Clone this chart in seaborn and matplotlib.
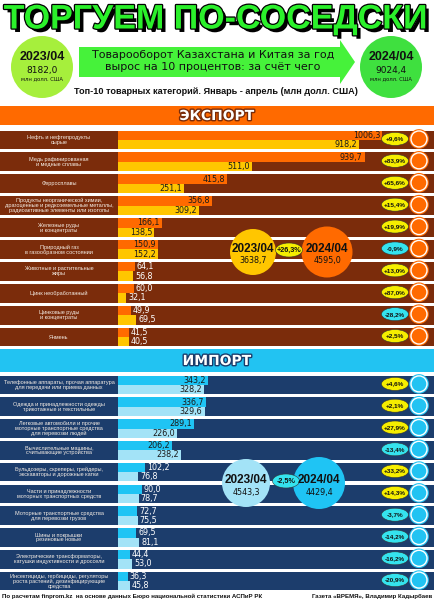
import matplotlib
matplotlib.use('Agg')
import matplotlib.pyplot as plt
import matplotlib.patheffects as pe
from matplotlib.patches import Circle, Ellipse, Polygon, Rectangle
import seaborn as sns
import pandas as pd

# ---- данные: экспорт ----
exp_cats = [
    "Нефть и нефтепродукты\nсырые",
    "Медь рафинированная\nи медные сплавы",
    "Ферросплавы",
    "Продукты неорганической химии,\nдрагоценные и редкоземельные металлы,\nрадиоактивные элементы или изотопы",
    "Железные руды\nи концентраты",
    "Природный газ\nв газообразном состоянии",
    "Животные и растительные\nжиры",
    "Цинк необработанный",
    "Цинковые руды\nи концентраты",
    "Ячмень",
]
exp_2024 = [1006.3, 939.7, 415.8, 356.8, 166.1, 150.9, 64.1, 60.0, 49.9, 41.5]
exp_2023 = [918.2, 511.0, 251.1, 309.2, 138.5, 152.2, 56.8, 32.1, 69.5, 40.5]
exp_change = ["+9,6%", "+83,9%", "+65,6%", "+15,4%", "+19,9%", "-0,9%",
              "+13,0%", "+87,0%", "-28,2%", "+2,5%"]

# ---- данные: импорт ----
imp_cats = [
    "Телефонные аппараты, прочая аппаратура\nдля передачи или приема данных",
    "Одежда и принадлежности одежды\nтрикотажные и текстильные",
    "Легковые автомобили и прочие\nмоторные транспортные средства\nдля перевозки людей",
    "Вычислительные машины,\nсчитывающие устройства",
    "Бульдозеры, скреперы, грейдеры,\nэкскаваторы и дорожные катки",
    "Части и принадлежности\nмоторных транспортных средств",
    "Моторные транспортные средства\nдля перевозки грузов",
    "Шины и покрышки\nрезиновые новые",
    "Электрические трансформаторы,\nкатушки индуктивности и дроссели",
    "Инсектициды, гербициды, регуляторы\nроста растений, дезинфицирующие\nсредства",
]
imp_2024 = [343.2, 336.7, 289.1, 206.2, 102.2, 90.0, 72.7, 69.5, 44.4, 36.3]
imp_2023 = [328.2, 329.6, 226.0, 238.2, 76.8, 78.7, 75.5, 81.1, 53.0, 45.8]
imp_change = ["+4,6%", "+2,1%", "+27,9%", "-13,4%", "+33,2%", "+14,3%",
              "-3,7%", "-14,2%", "-16,2%", "-20,9%"]

totals_exp = ["3638,7", "4595,0", "+26,3%"]
totals_imp = ["4543,3", "4429,4", "-2,5%"]
totals_all = ["8182,0", "9024,4"]

sns.set_theme(style='white')
narrow = 'Liberation Sans'
plt.rcParams['font.family'] = ['DejaVu Sans']

W, H = 434, 600
S = 0.2625   # пикселей на млн долл.
X0 = 118     # начало столбиков

fig = plt.figure(figsize=(4.34, 6.0), dpi=100)
fig.patch.set_facecolor('white')

bg = fig.add_axes([0, 0, 1, 1])
bg.set_xlim(0, W)
bg.set_ylim(H, 0)
bg.axis('off')

# шапка
title = bg.text(215, 20, "ТОРГУЕМ ПО-СОСЕДСКИ", ha='center', va='center',
                fontsize=24.5, fontweight='bold', family=narrow, color='#2bf02b')
title.set_path_effects([pe.SimplePatchShadow(offset=(2.5, -2.5), shadow_rgbFace='black', alpha=1),
                        pe.Stroke(linewidth=1.8, foreground='black'), pe.Normal()])

bg.add_patch(Polygon([(79, 47), (340, 47), (340, 40), (355, 62), (340, 84), (340, 77), (79, 77)],
                     closed=True, fc='#46f23a', ec='none'))
bg.text(213, 55, "Товарооборот Казахстана и Китая за год", ha='center', va='center',
        fontsize=8, color='#111111')
bg.text(213, 67, "вырос на 10 процентов: за счёт чего", ha='center', va='center',
        fontsize=8, color='#111111')

for cx, col, yr, val in [(42, '#a6ef3c', "2023/04", totals_all[0]),
                         (391, '#3fe03f', "2024/04", totals_all[1])]:
    bg.add_patch(Circle((cx, 67), 31, fc=col, ec='none'))
    bg.text(cx, 57, yr, ha='center', va='center', fontsize=9, fontweight='bold',
            family=narrow, color='#111111')
    bg.text(cx, 70, val, ha='center', va='center', fontsize=6.5, color='#111111')
    bg.text(cx, 79, "млн долл. США", ha='center', va='center', fontsize=3.8, color='#111111')

bg.text(216, 91, "Топ-10 товарных категорий. Январь - апрель (млн долл. США)", ha='center',
        va='center', fontsize=6.6, fontweight='bold', family=narrow, color='#111111')

# полосы разделов
bg.add_patch(Rectangle((0, 106), W, 19, fc='#ff6a00', ec='none'))
t = bg.text(217, 116, "ЭКСПОРТ", ha='center', va='center', fontsize=10,
            fontweight='heavy', color='white')
t.set_path_effects([pe.withStroke(linewidth=2, foreground='#7a2c0a')])
bg.add_patch(Rectangle((0, 349), W, 23, fc='#22c3f2', ec='none'))
t = bg.text(217, 361, "ИМПОРТ", ha='center', va='center', fontsize=10,
            fontweight='heavy', color='white')
t.set_path_effects([pe.withStroke(linewidth=2, foreground='#1b3c6b')])

bg.text(2, 596, "По расчетам finprom.kz  на основе данных Бюро национальной статистики АСПиР РК",
        ha='left', va='center', fontsize=4.4, fontweight='bold', family=narrow, color='#111111')
bg.text(432, 596, "Газета «ВРЕМЯ», Владимир Кадырбаев", ha='right', va='center',
        fontsize=4.4, fontweight='bold', family=narrow, color='#111111')


def panel(y_top, y_bot, cats, v24, v23, c24, c23, rowc):
    n = len(cats)
    ax = fig.add_axes([0, 1 - y_bot / H, 1, (y_bot - y_top) / H])
    df = pd.DataFrame({'cat': cats * 2,
                       'year': ['2024'] * n + ['2023'] * n,
                       'value': v24 + v23})
    sns.barplot(data=df, x='value', y='cat', hue='year', hue_order=['2024', '2023'],
                palette=[c24, c23], orient='h', width=0.86, gap=0, saturation=1,
                legend=False, errorbar=None, ax=ax, zorder=2, linewidth=0)
    for i in range(n):
        ax.axhspan(i - 0.43, i + 0.43, color=rowc, zorder=0, lw=0)
        ax.text((59 - X0) / S, i, cats[i], ha='center', va='center', fontsize=4.0,
                family=narrow, color='#f4ece4', linespacing=1.0)
        for v, dy in [(v24[i], -0.215), (v23[i], 0.215)]:
            lab = f"{v:.1f}".replace('.', ',')
            if v > 120:
                ax.text(v - 2 / S, i + dy, lab, ha='right', va='center', fontsize=5.8,
                        color='#1a1a1a', zorder=3)
            else:
                ax.text(v + 2 / S, i + dy, lab, ha='left', va='center', fontsize=5.8,
                        color='white', zorder=3)
    ax.set_xlim(-X0 / S, (W - X0) / S)
    ax.set_ylim(n - 0.5, -0.5)
    ax.axis('off')
    return ax


panel(129, 348, exp_cats, exp_2024, exp_2023, '#ff6a00', '#ffc600', '#7b2c0b')
panel(374, 592, imp_cats, imp_2024, imp_2023, '#1fc4f4', '#a3e3f7', '#1c3d6c')

# верхний слой: проценты, значки, итоги
top = fig.add_axes([0, 0, 1, 1])
top.set_xlim(0, W)
top.set_ylim(H, 0)
top.axis('off')
top.patch.set_alpha(0)


def badges(y_top, y_bot, changes, iconc):
    n = len(changes)
    pitch = (y_bot - y_top) / n
    for i, ch in enumerate(changes):
        yc = y_top + (i + 0.5) * pitch - 1
        fc = '#f6ee00' if ch.startswith('+') else '#35e3ee'
        top.add_patch(Ellipse((395, yc), 27, 13, fc=fc, ec='#333333', lw=0.4))
        top.text(395, yc, ch, ha='center', va='center', fontsize=4.6, fontweight='bold',
                 family=narrow, color='#111111')
        top.add_patch(Circle((419, yc), 9.8, fc=iconc, ec='none'))
        top.add_patch(Circle((419, yc), 8.0, fc='none', ec='white', lw=1.0))


badges(129, 348, exp_change, '#ff6a00')
badges(374, 592, imp_change, '#22c3f2')


def totals(cy, c1, c2, cb, vals, r1, r2, x1, x2, xb):
    top.add_patch(Circle((x1, cy), r1, fc=c1, ec='none'))
    top.add_patch(Circle((x2, cy), r2, fc=c2, ec='none'))
    for x, yr, v in [(x1, "2023/04", vals[0]), (x2, "2024/04", vals[1])]:
        top.text(x, cy - 3, yr, ha='center', va='center', fontsize=8.5, fontweight='bold',
                 family=narrow, color='#111111')
        top.text(x, cy + 9, v, ha='center', va='center', fontsize=5.8, color='#111111')
    top.add_patch(Ellipse((xb, cy - 2), 27, 14, fc=cb, ec='#333333', lw=0.4))
    top.text(xb, cy - 2, vals[2], ha='center', va='center', fontsize=5.2, fontweight='bold',
             family=narrow, color='#111111')


totals(252, '#ffc600', '#ff6a00', '#f6ee00', totals_exp, 23, 25.5, 253, 327, 289)
totals(483, '#a3e3f7', '#1fc4f4', '#35e3ee', totals_imp, 24, 26, 246, 319, 286)

fig.savefig('out.png', dpi=100, facecolor='white')
